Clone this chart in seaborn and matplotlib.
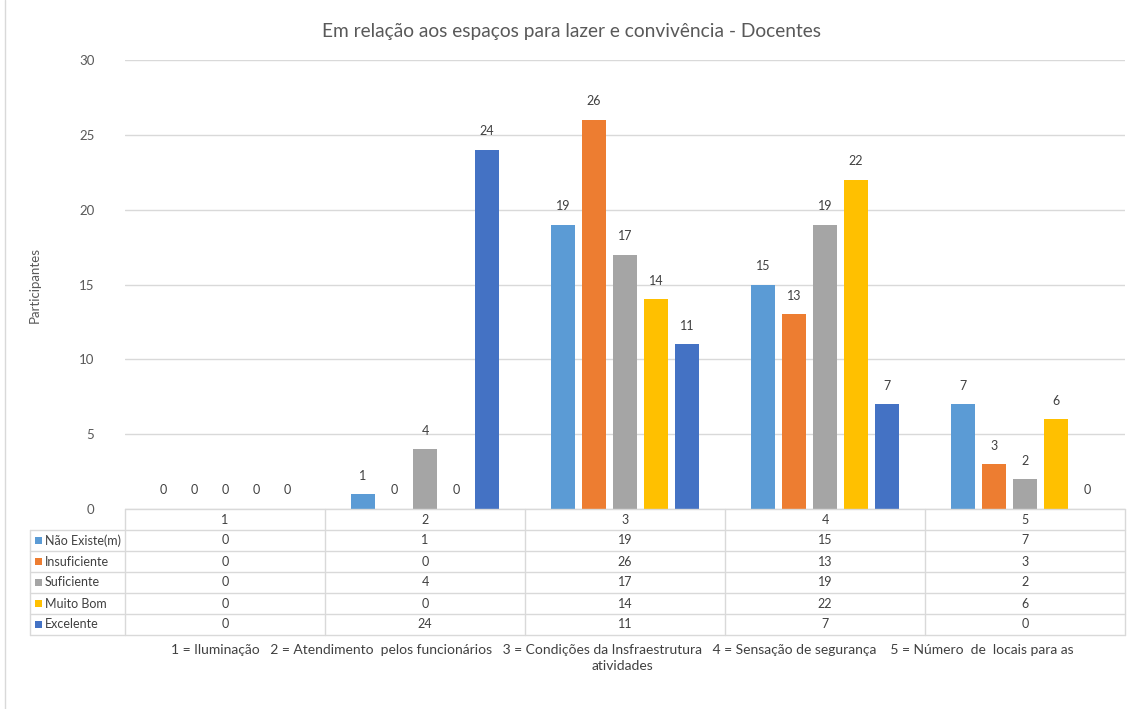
import numpy as np
import pandas as pd
import matplotlib
matplotlib.use("Agg")
import matplotlib.pyplot as plt
from matplotlib.patches import Rectangle
import seaborn as sns

# Data
groups = ["1", "2", "3", "4", "5"]
series = ["Não Existe(m)", "Insuficiente", "Suficiente", "Muito Bom", "Excelente"]
nao_existe = [0, 1, 19, 15, 7]
insuficiente = [0, 0, 26, 13, 3]
suficiente = [0, 4, 17, 19, 2]
muito_bom = [0, 0, 14, 22, 6]
excelente = [0, 24, 11, 7, 0]
colors = ["#5B9BD5", "#ED7D31", "#A5A5A5", "#FFC000", "#4472C4"]

title = "Em relação aos espaços para lazer e convivência - Docentes"
ylabel = "Participantes"
footer = ("1 = Iluminação   2 = Atendimento  pelos funcionários   3 = Condições da Insfraestrutura"
          "   4 = Sensação de segurança    5 = Número  de  locais para as\natividades")

values = [nao_existe, insuficiente, suficiente, muito_bom, excelente]
df = pd.DataFrame({
    "grupo": groups * len(series),
    "serie": [s for s in series for _ in groups],
    "valor": [v for vals in values for v in vals],
})

sns.set_theme(style="white")
plt.rcParams["font.family"] = ["Lato", "DejaVu Sans"]

W, H = 1131, 709
fig = plt.figure(figsize=(W / 100, H / 100), dpi=100)


def px(x):
    return x / W


def py(y):
    return 1 - y / H


ax = fig.add_axes([px(125), py(509), px(1125) - px(125), py(60) - py(509)])
sns.barplot(data=df, x="grupo", y="valor", hue="serie", hue_order=series,
            palette=colors, width=0.775, gap=0.22, ax=ax, legend=False,
            saturation=1, edgecolor="none")

for cont in ax.containers:
    ax.bar_label(cont, labels=[f"{int(b.get_height())}" for b in cont],
                 padding=9, fontsize=9, color="#404040")

ax.set_ylim(0, 30)
ax.set_yticks(range(0, 31, 5))
ax.set_xlim(-0.5, 4.5)
ax.yaxis.grid(True, color="#D9D9D9", linewidth=1)
ax.set_axisbelow(True)
ax.set_xticks([])
ax.set_xlabel("")
ax.set_ylabel("")
ax.tick_params(axis="y", labelsize=9.5, colors="#595959", length=0, pad=22)
for sp in ax.spines.values():
    sp.set_visible(False)

# Title and y label
fig.text(px(571), py(31), title, ha="center", va="center", fontsize=13.8, color="#595959")
fig.text(px(35), py(285), ylabel, ha="center", va="center", rotation=90,
         fontsize=9.5, color="#595959")

# Data table under the chart
line_c = "#D9D9D9"
col_edges = [125, 325, 525, 725, 925, 1125]
row_edges = [509, 530, 551, 572, 593, 614, 635]
tf = fig.transFigure


def hline(y, x0, x1):
    fig.add_artist(plt.Line2D([px(x0), px(x1)], [py(y), py(y)], color=line_c, lw=1, transform=tf))


def vline(x, y0, y1):
    fig.add_artist(plt.Line2D([px(x), px(x)], [py(y0), py(y1)], color=line_c, lw=1, transform=tf))


hline(row_edges[0], 125, 1125)
for y in row_edges[1:]:
    hline(y, 30, 1125)
for x in col_edges:
    vline(x, row_edges[0], row_edges[-1])
vline(30, row_edges[1], row_edges[-1])

for j, g in enumerate(groups):
    cx = (col_edges[j] + col_edges[j + 1]) / 2
    fig.text(px(cx), py((row_edges[0] + row_edges[1]) / 2), g, ha="center", va="center",
             fontsize=9, color="#404040")

for i, (s, vals) in enumerate(zip(series, values)):
    cy = (row_edges[i + 1] + row_edges[i + 2]) / 2
    fig.add_artist(Rectangle((px(35), py(cy + 3.5)), px(7), py(0) - py(7),
                             facecolor=colors[i], edgecolor="none", transform=tf))
    fig.text(px(45), py(cy), s, ha="left", va="center", fontsize=9, color="#404040")
    for j, v in enumerate(vals):
        cx = (col_edges[j] + col_edges[j + 1]) / 2
        fig.text(px(cx), py(cy), str(v), ha="center", va="center", fontsize=9, color="#404040")

fig.text(px(622), py(658), footer, ha="center", va="center", fontsize=10,
         color="#404040", linespacing=1.4)

# chart frame on the left
fig.add_artist(plt.Line2D([px(5), px(5)], [0, 1], color=line_c, lw=1, transform=tf))

fig.savefig("out.png", dpi=100)
